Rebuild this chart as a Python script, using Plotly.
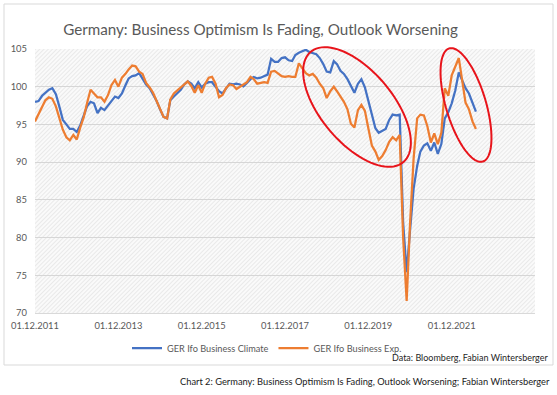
import urllib.parse
import numpy as np
import pandas as pd
import plotly.graph_objects as go

# ---------------- data ----------------
start_month = "2011-12-01"
climate = [
    98.0, 98.1, 98.8, 99.2, 99.6, 99.8, 99.0, 97.4, 95.6, 95.0,
    94.4, 94.4, 94.0, 94.9, 96.3, 97.4, 98.0, 97.8, 96.5, 97.2,
    96.9, 97.5, 98.2, 98.7, 98.5, 99.1, 100.2, 101.1, 101.4, 101.5,
    101.8, 101.0, 100.3, 99.8, 99.0, 98.1, 97.0, 96.0, 95.8, 98.2,
    98.7, 99.1, 99.6, 100.3, 100.7, 100.4, 99.8, 100.6, 99.9, 100.4,
    100.6, 100.6, 100.0, 99.4, 99.1, 99.8, 100.4, 100.3, 100.4, 100.3,
    100.05, 100.5, 101.0, 101.3, 101.1, 101.2, 101.4, 101.6, 103.7, 103.3,
    103.3, 103.8, 103.9, 103.5, 103.4, 104.2, 104.5, 104.7, 104.9, 104.6,
    104.4, 104.3, 103.8, 103.0, 102.0, 101.9, 103.4, 103.0, 102.1, 101.7,
    101.0, 100.2, 99.2, 100.4, 101.0, 99.9, 98.2, 96.5, 94.5, 93.9,
    94.1, 94.4, 95.6, 96.3, 96.2, 96.3, 82.0, 75.4, 81.0, 86.5,
    89.5, 91.4, 92.2, 92.5, 91.5, 92.6, 91.1, 92.4, 95.8, 96.6,
    97.8, 99.5, 101.9, 100.9, 99.8, 99.1, 97.9, 96.7,
]
expectations = [
    95.4, 96.3, 97.3, 98.2, 98.6, 98.4, 97.4, 96.0, 94.3, 93.3,
    92.9, 93.6, 93.0, 94.6, 96.0, 97.8, 99.6, 99.1, 98.6, 98.6,
    98.0, 98.9, 100.2, 100.9, 100.0, 101.2, 101.7, 102.3, 102.8, 102.7,
    102.0, 101.7, 100.5, 99.9, 99.2, 98.1, 97.1, 96.0, 95.8, 98.3,
    99.1, 99.5, 99.8, 100.2, 100.7, 100.1, 99.2, 100.2, 99.2, 100.4,
    101.2, 101.3, 100.4, 98.6, 98.9, 99.8, 100.3, 100.2, 99.7, 100.0,
    100.3, 100.6, 101.3, 101.0, 100.4, 100.5, 100.6, 100.5, 102.0, 102.1,
    101.8, 101.4, 101.3, 101.4, 101.3, 101.3, 103.1, 102.4, 101.8, 101.5,
    101.7, 101.2, 100.4, 99.8, 98.5, 99.4, 100.0, 99.4, 98.7, 98.0,
    97.0, 95.1, 94.6, 96.9, 97.6, 96.8, 94.5, 92.2, 91.4, 90.3,
    90.8, 91.6, 92.7, 93.3, 92.9, 93.6, 80.0, 71.6, 82.0, 90.5,
    95.8, 96.3, 96.2, 94.8, 92.6, 93.8, 92.4, 93.9, 99.8, 98.8,
    101.5, 102.6, 103.8, 101.0, 97.9, 97.0, 95.4, 94.4,
]
series_names = ["GER Ifo Business Climate", "GER Ifo Business Exp."]
tick_dates = ["2011-12-01", "2013-12-01", "2015-12-01", "2017-12-01", "2019-12-01", "2021-12-01"]
tick_labels = ["01.12.2011", "01.12.2013", "01.12.2015", "01.12.2017", "01.12.2019", "01.12.2021"]
y_ticks = [70, 75, 80, 85, 90, 95, 100, 105]
x_range = ["2011-12-01", "2023-12-01"]
y_range = [70, 105]

dates = pd.date_range(start_month, periods=len(climate), freq="MS")

# ---------------- layout geometry (pixels) ----------------
W, H = 557, 395
L, R, T, B = 35, 22, 49, 82
PW, PH = W - L - R, H - T - B
FONT = "Lato"
GREY = "#595959"


def px2paper(x, y):
    return (x - L) / PW, 1 - (y - T) / PH


def ellipse_path(cx, cy, a, b, ang_deg, n=90):
    t = np.linspace(0, 2 * np.pi, n)
    th = np.radians(ang_deg)
    xs = cx + a * np.cos(t) * np.cos(th) - b * np.sin(t) * np.sin(th)
    ys = cy + a * np.cos(t) * np.sin(th) + b * np.sin(t) * np.cos(th)
    pts = [px2paper(x, y) for x, y in zip(xs, ys)]
    return "M " + " L ".join(f"{p:.5f},{q:.5f}" for p, q in pts) + " Z"


fig = go.Figure()
fig.add_trace(go.Scatter(x=dates, y=climate, mode="lines", name=series_names[0],
                         line=dict(color="#4472C4", width=2.25)))
fig.add_trace(go.Scatter(x=dates, y=expectations, mode="lines", name=series_names[1],
                         line=dict(color="#ED7D31", width=2.25)))

# hatched plot-area background (decorative texture)
svg = (f"<svg xmlns='http://www.w3.org/2000/svg' width='{PW}' height='{PH}'>"
       "<defs><pattern id='p' width='3' height='3' patternUnits='userSpaceOnUse' "
       "patternTransform='rotate(45)'><line x1='0' y1='0' x2='0' y2='3' "
       "stroke='#dedede' stroke-width='1.2'/></pattern></defs>"
       "<rect width='100%' height='100%' fill='#fafafa'/>"
       "<rect width='100%' height='100%' fill='url(#p)'/></svg>")
img_src = "data:image/svg+xml;charset=utf-8," + urllib.parse.quote(svg)

shapes = []
bx0, by0 = px2paper(4, 4)
bx1, by1 = px2paper(553, 365)
shapes.append(dict(type="rect", xref="paper", yref="paper", x0=bx0, y0=by1, x1=bx1, y1=by0,
                   line=dict(color="#d9d9d9", width=1), fillcolor="rgba(0,0,0,0)", layer="below"))
shapes.append(dict(type="path", xref="paper", yref="paper",
                   path=ellipse_path(357, 107, 72, 36, 50), line=dict(color="#E8141B", width=2)))
shapes.append(dict(type="path", xref="paper", yref="paper",
                   path=ellipse_path(466, 105, 59, 20, 73.5), line=dict(color="#E8141B", width=2)))

dx, dy = px2paper(550, 357)
cx_, cy_ = px2paper(552, 381)
annotations = [
    dict(text="Data: Bloomberg, Fabian Wintersberger", xref="paper", yref="paper",
         x=dx, y=dy, xanchor="right", yanchor="middle", showarrow=False,
         font=dict(family=FONT, size=9, color="#1f1f1f")),
    dict(text="Chart 2: Germany: Business Optimism Is Fading, Outlook Worsening; Fabian Wintersberger",
         xref="paper", yref="paper", x=cx_, y=cy_, xanchor="right", yanchor="middle",
         showarrow=False, font=dict(family=FONT, size=9.3, color="#1a1a1a")),
]

lx, ly = px2paper(127, 348)
fig.update_layout(
    width=W, height=H,
    margin=dict(l=L, r=R, t=T, b=B, autoexpand=False),
    paper_bgcolor="white",
    plot_bgcolor="rgba(0,0,0,0)",
    title=dict(text="Germany: Business Optimism Is Fading, Outlook Worsening",
               x=260.5 / W, xanchor="center", y=1 - 30 / H, yanchor="middle",
               font=dict(family=FONT, size=15.2, color=GREY)),
    font=dict(family=FONT, size=9, color=GREY),
    showlegend=True,
    legend=dict(orientation="h", x=lx, y=ly, xanchor="left", yanchor="middle",
                font=dict(family=FONT, size=9.2, color=GREY), itemwidth=30,
                bgcolor="rgba(0,0,0,0)"),
    xaxis=dict(type="date", range=x_range, automargin=False,
               tickvals=tick_dates, ticktext=tick_labels, showgrid=False,
               showline=True, linecolor="#d9d9d9", zeroline=False,
               ticks="", ticklabelstandoff=4, tickfont=dict(family=FONT, size=9.4, color=GREY)),
    yaxis=dict(range=y_range, tickvals=y_ticks, showgrid=True, gridcolor="#d6d6d6",
               gridwidth=1, zeroline=False, showline=False, ticks="", automargin=False,
               ticklabelstandoff=7, tickfont=dict(family=FONT, size=9.4, color=GREY)),
    images=[dict(source=img_src, xref="paper", yref="paper", x=0, y=1, sizex=1, sizey=1,
                 sizing="stretch", layer="below", xanchor="left", yanchor="top")],
    shapes=shapes,
    annotations=annotations,
)

fig.write_html("out.html", config={"displayModeBar": False},
               post_script="document.body.style.margin='0';document.body.style.overflow='hidden';")
